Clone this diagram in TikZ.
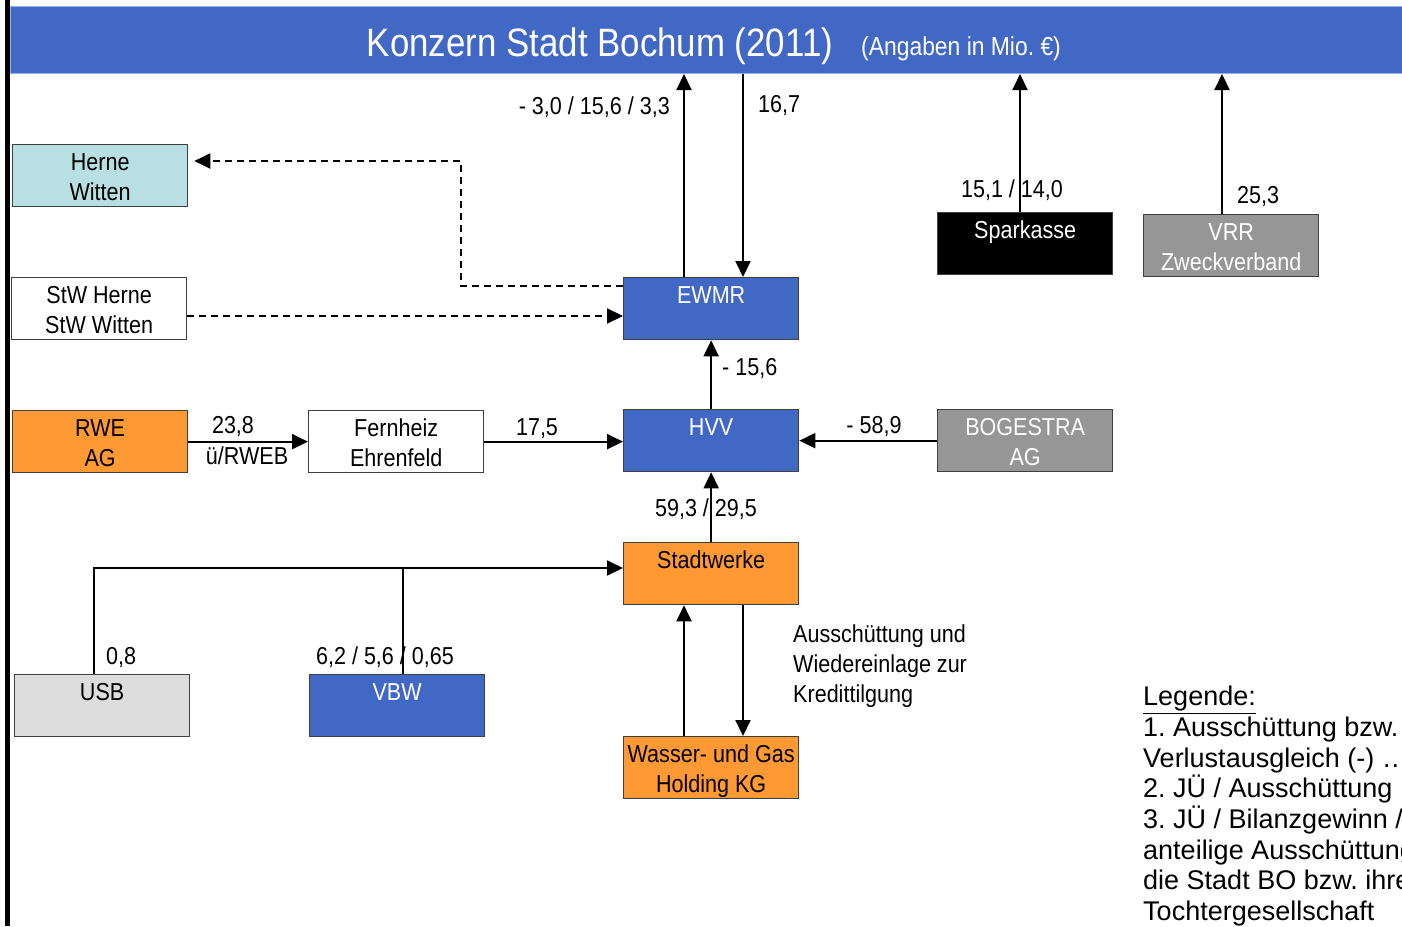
\documentclass[tikz,border=0pt]{standalone}
\usepackage{fontspec}
\setmainfont[FakeStretch=0.88]{Liberation Sans}
\newfontfamily\legfont{Liberation Sans}
\usetikzlibrary{arrows.meta,calc}
\definecolor{bblue}{RGB}{66,104,198}
\definecolor{bedge}{RGB}{150,175,225}
\definecolor{borange}{RGB}{255,153,51}
\definecolor{bgray}{RGB}{150,150,150}
\definecolor{lgray}{RGB}{221,221,221}
\definecolor{bcyan}{RGB}{184,223,226}
\newcommand\bt[1]{\parbox[c][60pt][t]{175pt}{\centering\vspace*{3.5pt}\strut #1}}
\tikzset{
  box/.style={draw=black!75, line width=1.3pt, minimum width=175pt, minimum height=62pt,
    inner sep=0pt, anchor=north west, font=\fontsize{24.5}{30}\selectfont},
  tip/.style={-{Triangle[length=16pt,width=15pt]}},
  arr/.style={line width=2pt, tip},
  ln/.style={line width=2pt},
  dsh/.style={line width=2pt, dash pattern=on 7pt off 5pt},
  lbl/.style={inner sep=0pt, font=\fontsize{24.5}{30}\selectfont}
}
\begin{document}
\frenchspacing
\begin{tikzpicture}[x=1pt,y=-1pt]
\useasboundingbox (0,0) rectangle (1402,926);
\clip (0,0) rectangle (1402,926);
\fill[white] (0,0) rectangle (1402,926);
% left bar
\fill[black] (5,0) rectangle (10,926);
% title
\node[fill=bblue, draw=bedge, line width=1pt, minimum width=1395pt, minimum height=67pt,
  anchor=north west, inner sep=0pt] (title) at (10,6) {};
\node[white, inner sep=0pt, anchor=base, font=\fontsize{39.6}{48}\selectfont] (ttl) at (600,56) {Konzern Stadt Bochum (2011)};
\node[white, inner sep=0pt, anchor=base west, font=\fontsize{26}{32}\selectfont] (sub) at (861,55) {(Angaben in Mio. €)};

% boxes
\node[box, fill=bcyan] (herne) at (12,144) {\bt{Herne\\Witten}};
\node[box, fill=white] (stw) at (11,277) {\bt{StW Herne\\StW Witten}};
\node[box, fill=borange] (rwe) at (12,410) {\bt{RWE\\AG}};
\node[box, fill=white] (fern) at (308,410) {\bt{Fernheiz\\Ehrenfeld}};
\node[box, fill=lgray] (usb) at (14,674) {\bt{USB}};
\node[box, fill=bblue, text=white] (vbw) at (309,674) {\bt{VBW}};
\node[box, fill=bblue, text=white] (ewmr) at (623,277) {\bt{EWMR}};
\node[box, fill=bblue, text=white] (hvv) at (623,409) {\bt{HVV}};
\node[box, fill=borange] (sw) at (623,542) {\bt{Stadtwerke}};
\node[box, fill=borange] (wgh) at (623,736) {\bt{Wasser- und Gas\\Holding KG}};
\node[box, fill=black, text=white] (spk) at (937,212) {\bt{Sparkasse}};
\node[box, fill=bgray, text=white] (vrr) at (1143,214) {\bt{VRR\\Zweckverband}};
\node[box, fill=bgray, text=white] (bog) at (937,409) {\bt{BOGESTRA\\AG}};

% helper coordinates
\coordinate (e1) at ($(ewmr.north west)+(61,0)$);
\coordinate (e2) at ($(ewmr.north west)+(120,0)$);
\coordinate (s1) at ($(spk.north west)+(83,0)$);
\coordinate (r1) at ($(vrr.north west)+(79,0)$);
\coordinate (d1) at ($(ewmr.north west)+(0,9)$);
\coordinate (d2) at ($(d1)+(-162,0)$);
\coordinate (d3) at ($(herne.north east)+(6,17)$);
\coordinate (t1) at ($(stw.north east)+(0,39)$);
\coordinate (t2) at (t1 -| ewmr.west);
\coordinate (u1) at ($(usb.north west)+(80,0)$);
\coordinate (u2) at ($(sw.north west)+(0,26)$);
\coordinate (v1) at ($(vbw.north west)+(94,0)$);
\coordinate (v2) at (v1 |- u2);
\coordinate (w1) at ($(wgh.north west)+(61,0)$);
\coordinate (w2) at ($(wgh.north west)+(120,0)$);

% connectors
\draw[arr] (e1) -- (e1 |- title.south);
\draw[arr] (e2 |- title.south) -- (e2);
\draw[arr] (s1) -- (s1 |- title.south);
\draw[arr] (r1) -- (r1 |- title.south);
\draw[dsh, tip] (d1) -- (d2) |- (d3);
\draw[dsh, tip] (t1) -- (t2);
\draw[arr] (hvv.north) -- (ewmr.south);
\draw[arr] (rwe.east) -- (fern.west);
\draw[arr] (fern.east) -- (fern.east -| hvv.west);
\draw[arr] (bog.west) -- (bog.west -| hvv.east);
\draw[arr] (sw.north) -- (hvv.south);
\draw[arr] (u1) |- (u2);
\draw[ln] (v1) -- (v2);
\draw[arr] (w1) -- (w1 |- sw.south);
\draw[arr] (w2 |- sw.south) -- (w2);

% labels
\node[lbl, anchor=base east] (l1) at (670,114) {- 3,0 / 15,6 / 3,3};
\node[lbl, anchor=base west] (l2) at (758,112) {16,7};
\node[lbl, anchor=base] (l3) at (1012,197) {15,1 / 14,0};
\node[lbl, anchor=base west] (l4) at (1237,203) {25,3};
\node[lbl, anchor=base west] (l5) at (722,375) {- 15,6};
\node[lbl, anchor=base] (l6) at (233,433) {23,8};
\node[lbl, anchor=base] (l7) at (247,464) {ü/RWEB};
\node[lbl, anchor=base] (l8) at (537,435) {17,5};
\node[lbl, anchor=base] (l9) at (874,433) {- 58,9};
\node[lbl, anchor=base] (l10) at (706,516) {59,3 / 29,5};
\node[lbl, anchor=base west] (l11) at (106,664) {0,8};
\node[lbl, anchor=base] (l12) at (385,664) {6,2 / 5,6 / 0,65};
\node[lbl, anchor=north west, align=left] (l13) at (793,625) {Ausschüttung und\\Wiedereinlage zur\\Kredittilgung};

% legend
\node[inner sep=0pt, anchor=north west, align=left, font=\legfont\fontsize{27}{30.7}\selectfont] (leg) at (1143,686)
  {\underline{Legende:}\\1. Ausschüttung bzw.\\Verlustausgleich (-) …\\2. JÜ / Ausschüttung …\\3. JÜ / Bilanzgewinn /\\anteilige Ausschüttung\\die Stadt BO bzw. ihre\\Tochtergesellschaft};
\end{tikzpicture}
\end{document}
